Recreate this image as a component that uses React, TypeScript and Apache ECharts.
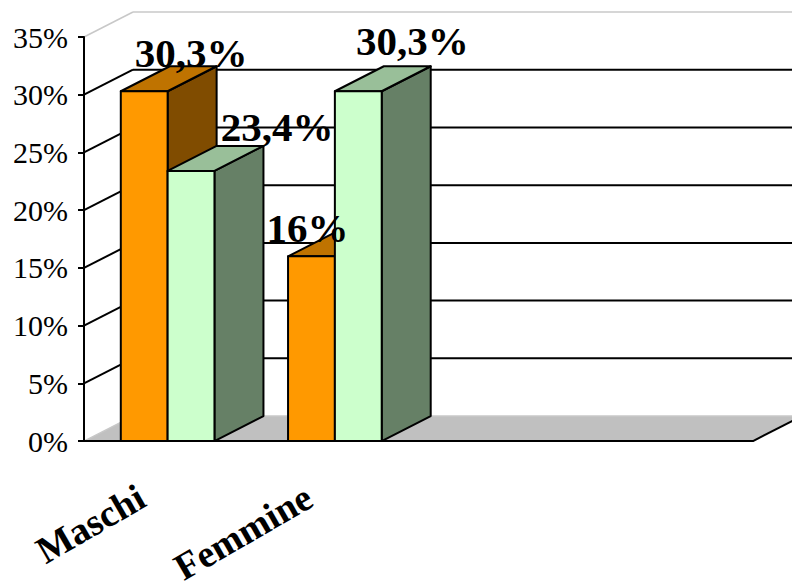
import React, { useEffect, useRef } from 'react';
import * as echarts from 'echarts';

// ---- data ----
const categories = ['Maschi', 'Femmine', '', ''];
const orangeValues = [30.3, 16];
const greenValues = [23.4, 30.3];
const yMin = 0;
const yMax = 35;
const yInterval = 5;

// label nudges (px) relative to the back-top centre of each bar: [series][category]
const labelNudges = [
  [[-2, 0], [-53, 10]],
  [[37, -5], [5, -12]],
];

// ---- layout / style ----
const W = 792;
const H = 588;
const DX = 49;
const DY = 25;
const BAR_FRAC = 0.28;
const FONT = '"Liberation Serif", "Times New Roman", serif';

const palettes = [
  { front: '#FF9900', top: '#BF7300', side: '#804C00' },
  { front: '#CCFFCC', top: '#99BF99', side: '#668066' },
];

function fmt(v: number): string {
  return Number.isInteger(v) ? `${v}%` : `${v.toFixed(1).replace('.', ',')}%`;
}

function barRenderer(sIdx: number) {
  return (params: any, api: any) => {
    const cat = api.value(0);
    const val = api.value(1);
    const top = api.coord([cat, val]);
    const base = api.coord([cat, 0]);
    const bw = api.size([1, 0])[0] * BAR_FRAC;
    const x0 = top[0] + (sIdx === 0 ? -bw : 0);
    const x1 = x0 + bw;
    const yT = top[1];
    const yB = base[1];
    const p = palettes[sIdx];
    const stroke = { stroke: '#000', lineWidth: 2, lineJoin: 'round' };
    const nudge = labelNudges[sIdx][params.dataIndex] || [0, 0];
    return {
      type: 'group',
      children: [
        {
          type: 'polygon',
          shape: { points: [[x1, yT], [x1 + DX, yT - DY], [x1 + DX, yB - DY], [x1, yB]] },
          style: { fill: p.side, ...stroke },
        },
        {
          type: 'polygon',
          shape: { points: [[x0, yT], [x1, yT], [x1 + DX, yT - DY], [x0 + DX, yT - DY]] },
          style: { fill: p.top, ...stroke },
        },
        {
          type: 'rect',
          shape: { x: x0, y: yT, width: bw, height: yB - yT },
          style: { fill: p.front, ...stroke },
        },
        {
          type: 'text',
          z2: 100,
          style: {
            text: fmt(val),
            x: (x0 + x1) / 2 + DX + nudge[0],
            y: yT - DY + nudge[1] - 13.5,
            align: 'center',
            verticalAlign: 'middle',
            font: `bold 41px ${FONT}`,
            fill: '#000',
          },
        },
      ],
    };
  };
}

function sceneRenderer(params: any, api: any) {
  const c0 = api.coord([0, yMin]);
  const catW = api.size([1, 0])[0];
  const xL = c0[0] - catW / 2;
  const xR = xL + catW * categories.length;
  const y0 = c0[1];
  const children: any[] = [];
  // floor
  children.push({
    type: 'polygon',
    shape: { points: [[xL, y0], [xR, y0], [xR + DX, y0 - DY], [xL + DX, y0 - DY]] },
    style: { fill: '#C0C0C0', stroke: 'none' },
  });
  // back wall grid lines and left wall diagonals
  for (let v = yMin; v <= yMax + 1e-9; v += yInterval) {
    const y = api.coord([0, v])[1];
    const edge = v === yMin || v === yMax;
    const color = edge ? '#C8C8C8' : '#000';
    const lw = edge ? 1.5 : 2;
    children.push({
      type: 'line',
      shape: { x1: xL + DX, y1: y - DY, x2: xR + DX, y2: y - DY },
      style: { stroke: color, lineWidth: lw },
    });
    children.push({
      type: 'line',
      shape: { x1: xL, y1: y, x2: xL + DX, y2: y - DY },
      style: { stroke: color, lineWidth: lw },
    });
  }
  // floor right edge
  children.push({
    type: 'line',
    shape: { x1: xR, y1: y0, x2: xR + DX, y2: y0 - DY },
    style: { stroke: '#000', lineWidth: 2 },
  });
  return { type: 'group', children };
}

export default function App() {
  const ref = useRef<HTMLDivElement>(null);
  useEffect(() => {
    if (!ref.current) return;
    const chart = echarts.init(ref.current, null, { renderer: 'svg' });
    chart.setOption({
      animation: false,
      backgroundColor: '#fff',
      grid: { left: 84, top: 37, width: 669, height: 406 },
      xAxis: {
        type: 'category',
        data: categories,
        boundaryGap: true,
        z: 5,
        axisLine: { lineStyle: { color: '#000', width: 2 } },
        axisTick: { length: 6, lineStyle: { color: '#000', width: 2 } },
        axisLabel: {
          interval: 0,
          rotate: 30,
          margin: 38,
          padding: [0, 30, 0, 0],
          color: '#000',
          fontFamily: FONT,
          fontWeight: 'bold',
          fontSize: 38,
        },
        splitLine: { show: false },
      },
      yAxis: {
        type: 'value',
        min: yMin,
        max: yMax,
        interval: yInterval,
        z: 5,
        axisLine: { show: true, lineStyle: { color: '#000', width: 2 } },
        axisTick: { show: true, length: 6, lineStyle: { color: '#000', width: 2 } },
        axisLabel: {
          formatter: '{value}%',
          margin: 16,
          color: '#000',
          fontFamily: FONT,
          fontSize: 30,
        },
        splitLine: { show: false },
      },
      series: [
        {
          type: 'custom',
          name: 'scene',
          z: 1,
          clip: false,
          silent: true,
          renderItem: sceneRenderer,
          encode: { x: 0, y: 1 },
          data: [[0, 0]],
        },
        {
          type: 'custom',
          name: 'Serie 1',
          z: 2,
          clip: false,
          renderItem: barRenderer(0),
          encode: { x: 0, y: 1 },
          data: orangeValues.map((v, i) => [i, v]),
        },
        {
          type: 'custom',
          name: 'Serie 2',
          z: 2,
          clip: false,
          renderItem: barRenderer(1),
          encode: { x: 0, y: 1 },
          data: greenValues.map((v, i) => [i, v]),
        },
      ],
    });
    return () => chart.dispose();
  }, []);
  return (
    <div
      ref={ref}
      style={{ position: 'fixed', left: 0, top: 0, width: W, height: H, background: '#fff' }}
    />
  );
}
